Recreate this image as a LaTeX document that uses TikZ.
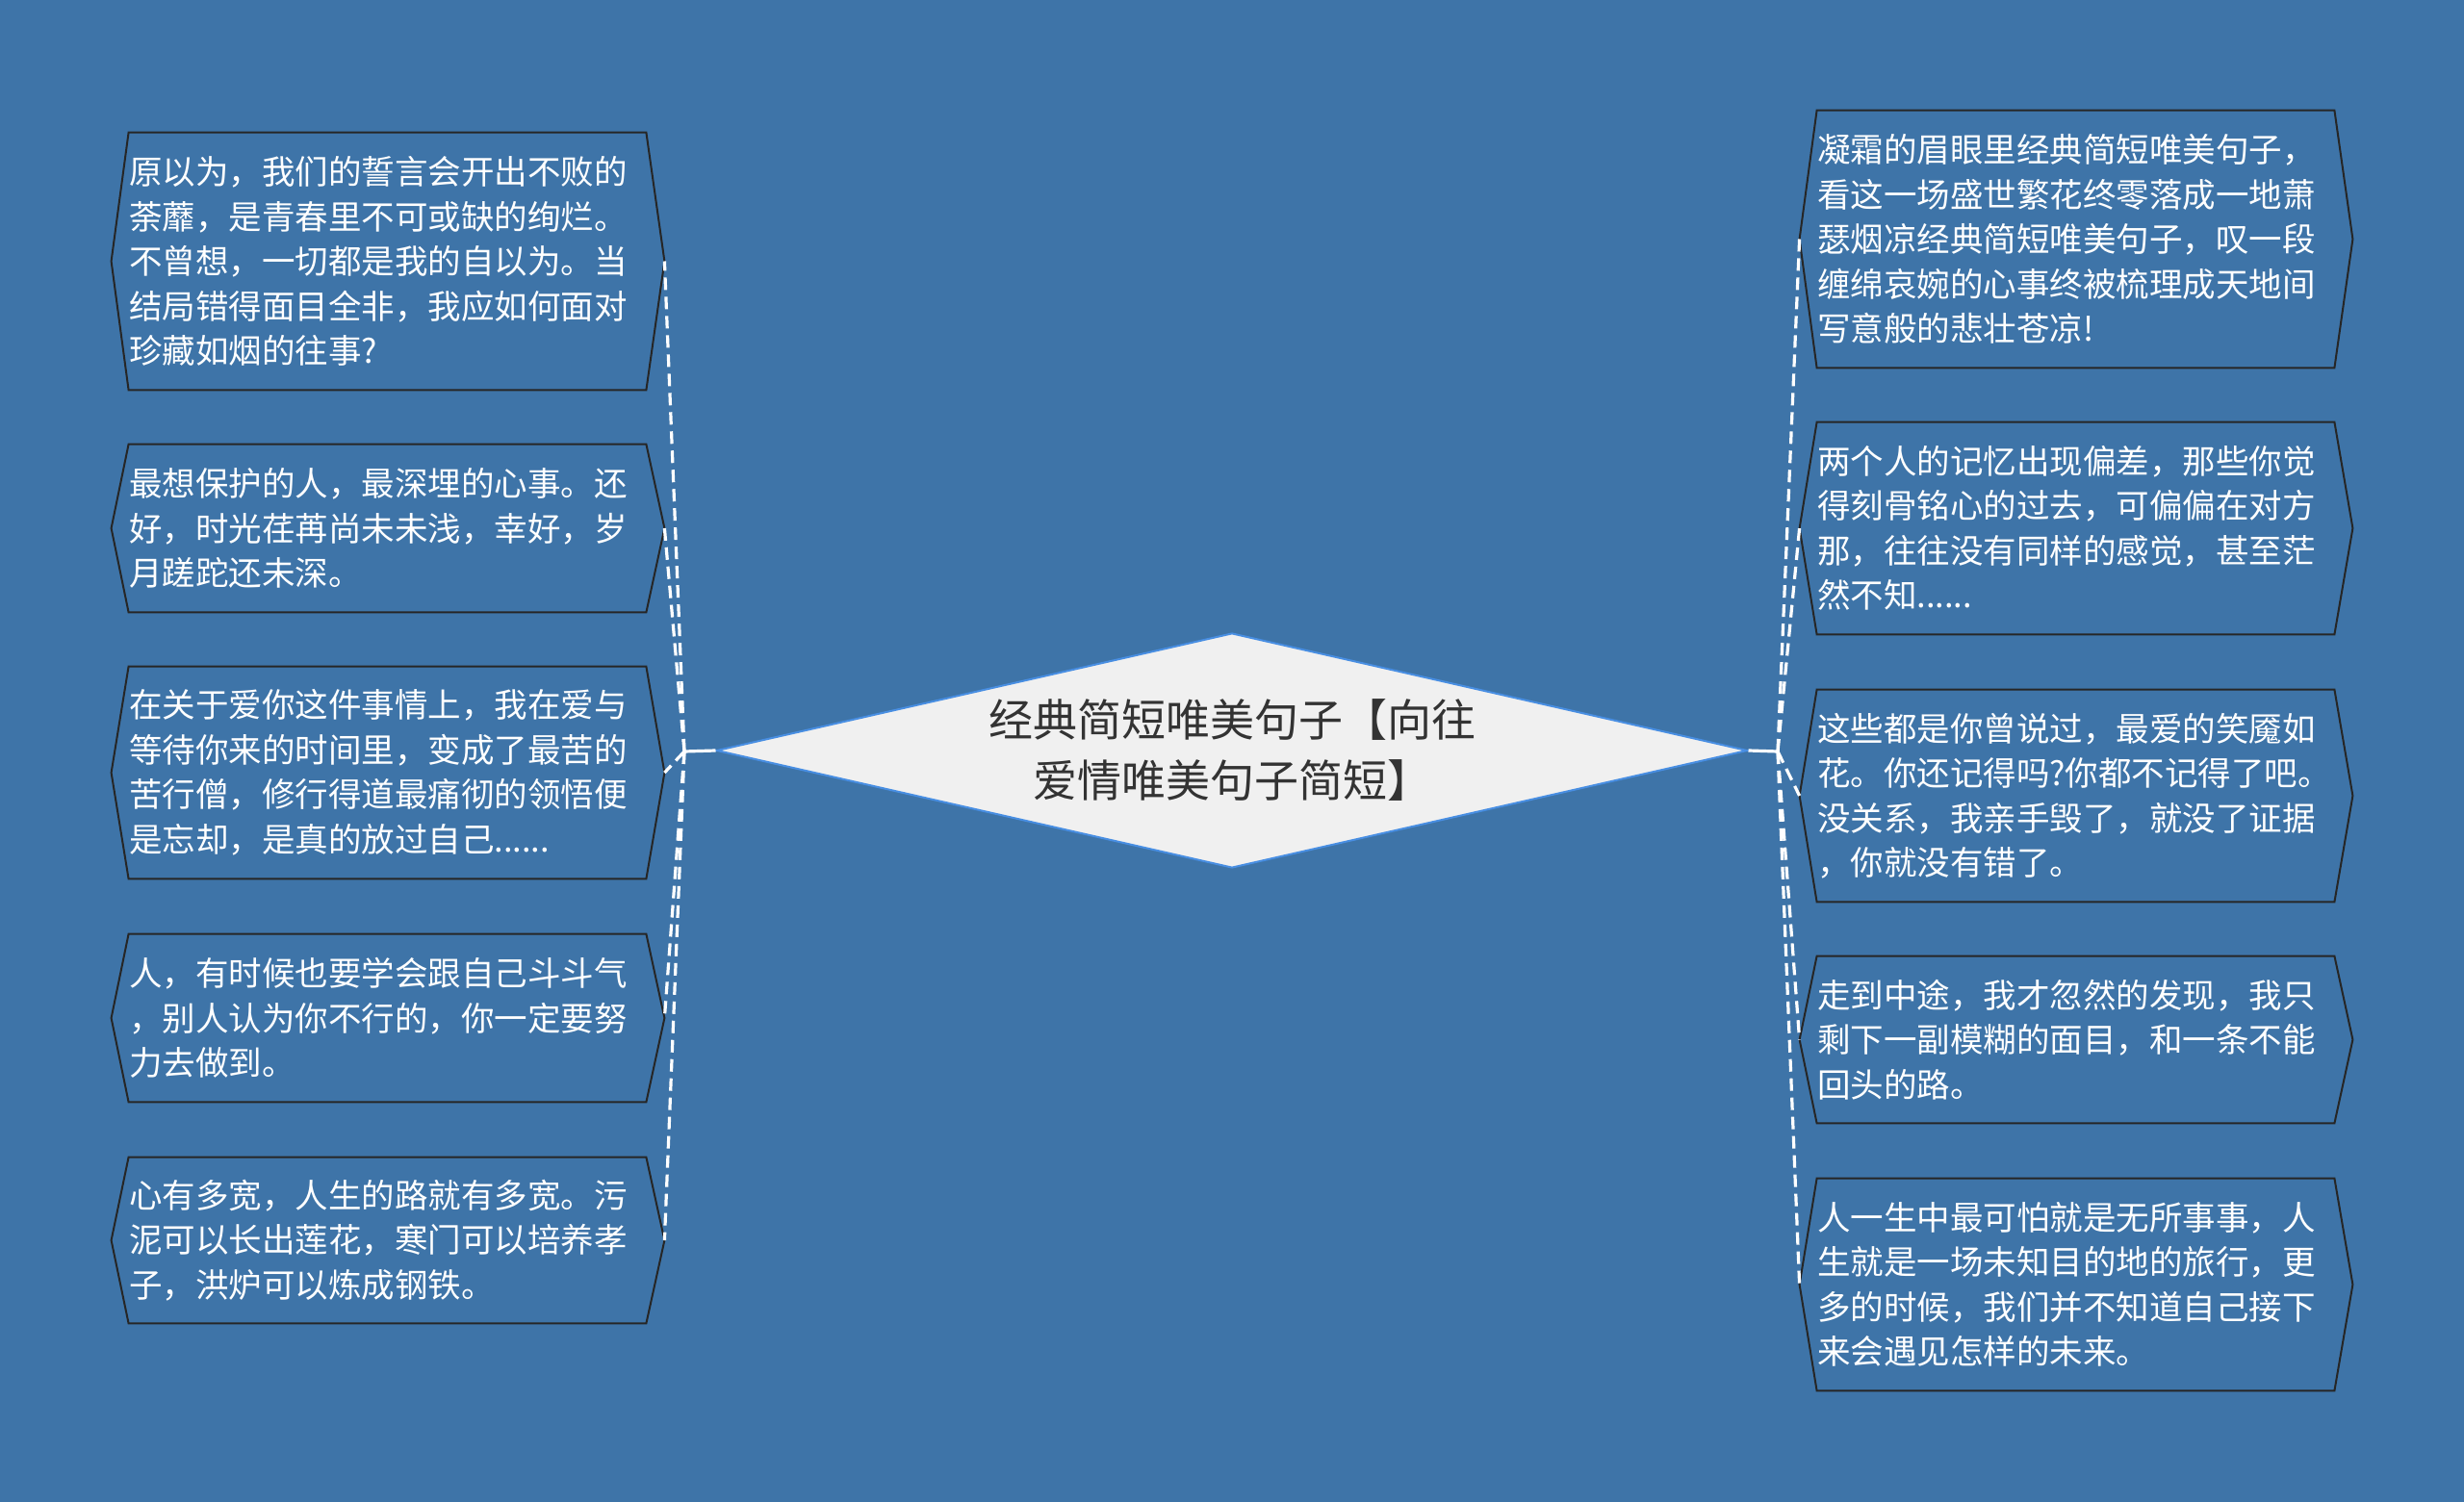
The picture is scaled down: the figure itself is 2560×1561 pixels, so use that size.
\documentclass[tikz,border=0pt]{standalone}
\usepackage{fontspec}
\setmainfont{Noto Sans CJK SC}
\usetikzlibrary{shapes.geometric, positioning, calc}
\definecolor{mapblue}{RGB}{62,116,168}
\definecolor{rootfill}{RGB}{240,240,240}
\definecolor{rootline}{RGB}{72,142,226}
\definecolor{titlegray}{RGB}{51,51,51}
\tikzset{
  leaf/.style={inner sep=0pt, text width=268.5pt, align=left, text=white,
    font=\fontsize{17.25pt}{23.25pt}\selectfont},
  leafline/.style={draw=black!85, line width=1pt},
  link/.style={draw=white, line width=1.6pt, dash pattern=on 6.5pt off 3.5pt},
  stem/.style={draw=white, line width=1.6pt},
}

\begin{document}
\begin{tikzpicture}[x=0.5pt, y=-0.5pt]
% Background
\fill[mapblue] (0,0) rectangle (2560,1561);

% Centre topic
\node[diamond, fill=rootfill, draw=rootline, line width=1pt, inner sep=0pt,
  minimum width=535.5pt, minimum height=122pt] (root) at (1280,780) {};
\node[font=\fontsize{23pt}{31.5pt}\selectfont, text=titlegray, align=center] (title) at (root.center) {经典简短唯美句子【向往\\爱情唯美句子简短】};

% Left branches
\node[leaf, minimum height=133.5pt] (l1) at (402.5,271.5) {原以为，我们的誓言会开出不败的\\荼蘼，是青春里不可或缺的绚烂。\\不曾想，一切都是我的自以为。当\\结局错得面目全非，我应如何面对\\珍藏如烟的往事?};
\node[leaf, minimum height=87pt] (l2) at (402.5,549) {最想保护的人，最深埋的心事。还\\好，时光荏苒尚未未浅，幸好，岁\\月蹉跎还未深。};
\node[leaf, minimum height=110pt] (l3) at (402.5,803) {在关于爱你这件事情上，我在爱与\\等待你来的时间里，变成了最苦的\\苦行僧，修行得道最痛彻的领悟便\\是忘却，是真的放过自己......};
\node[leaf, minimum height=87pt] (l4) at (402.5,1058) {人，有时候也要学会跟自己斗斗气\\，别人认为你不行的，你一定要努\\力去做到。};
\node[leaf, minimum height=86pt] (l5) at (402.5,1289) {心有多宽，人生的路就有多宽。污\\泥可以长出莲花，寒门可以培养孝\\子，洪炉可以炼成钢铁。};

% Right branches
\node[leaf, minimum height=133.5pt] (r1) at (2156.5,248.5) {凝霜的眉眼里经典简短唯美句子，\\看这一场盛世繁花终零落成一地萧\\瑟烟凉经典简短唯美句子，叹一段\\缠绵哀婉的心事终被梳理成天地间\\写意般的悲壮苍凉!};
\node[leaf, minimum height=110pt] (r2) at (2156.5,549) {两个人的记忆出现偏差，那些你觉\\得刻骨铭心的过去，可偏偏在对方\\那，往往没有同样的感觉，甚至茫\\然不知......};
\node[leaf, minimum height=110pt] (r3) at (2156.5,827) {这些都是你曾说过，最爱的笑魇如\\花。你还记得吗?你都不记得了吧。\\没关系，我亲手毁了，就没了证据\\，你就没有错了。};
\node[leaf, minimum height=86.5pt] (r4) at (2156.5,1080.5) {走到中途，我才忽然的发现，我只\\剩下一副模糊的面目，和一条不能\\回头的路。};
\node[leaf, minimum height=110pt] (r5) at (2156.5,1335) {人一生中最可怕就是无所事事，人\\生就是一场未知目的地的旅行，更\\多的时候，我们并不知道自己接下\\来会遇见怎样的未来。};

% Box outlines
\foreach \n in {l1,l2,l3,l4,l5,r1,r2,r3,r4,r5}
  \draw[leafline] (\n.north west) -- (\n.north east) -- ($(\n.east)+(19,0)$)
    -- (\n.south east) -- (\n.south west) -- ($(\n.west)+(-18,0)$) -- cycle;

% Connectors
\coordinate (lj) at (711,781);
\coordinate (rj) at (1847,781);
\draw[stem] (root.west) -- (lj);
\draw[stem] (root.east) -- (rj);
\foreach \n in {l1,l2,l3,l4,l5}
  \draw[link] (lj) -- ($(\n.east)+(19,0)$);
\foreach \n in {r1,r2,r3,r4,r5}
  \draw[link] (rj) -- ($(\n.west)+(-18,0)$);
\end{tikzpicture}
\end{document}
